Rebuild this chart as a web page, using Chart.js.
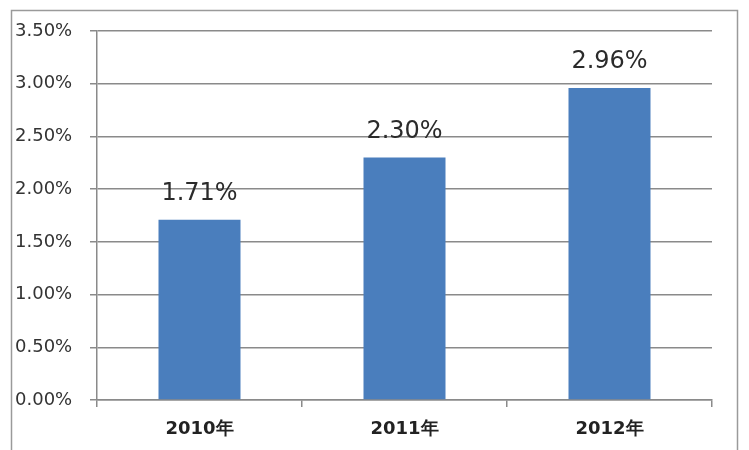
<!DOCTYPE html>
<html>
<head>
<meta charset="utf-8">
<script src="https://cdn.jsdelivr.net/npm/chart.js"></script>
<style>
  html, body { margin: 0; padding: 0; background: #fff; }
  #wrap { width: 749px; height: 450px; }
</style>
</head>
<body>
<div id="wrap"><canvas id="rateChart" width="749" height="450"></canvas></div>
<script>
// chart data
const years = ['2010年', '2011年', '2012年'];
const rates = [1.71, 2.30, 2.96];
const yTicks = [0, 0.5, 1, 1.5, 2, 2.5, 3, 3.5];

const gridColor = '#8a8a8a';

// outer frame, like the Excel chart border
const framePlugin = {
    id: 'frame',
    beforeDraw(chart) {
        const ctx = chart.ctx;
        ctx.save();
        ctx.fillStyle = '#fff';
        ctx.fillRect(0, 0, chart.width, chart.height);
        ctx.strokeStyle = '#9a9a9a';
        ctx.lineWidth = 1.5;
        ctx.strokeRect(11.5, 10.5, 726, 460);
        ctx.restore();
    }
};

// value labels above the bars
const valueLabels = {
    id: 'valueLabels',
    afterDatasetsDraw(chart) {
        const ctx = chart.ctx;
        const meta = chart.getDatasetMeta(0);
        ctx.save();
        ctx.font = '24px "DejaVu Sans"';
        ctx.fillStyle = '#2b2b2b';
        ctx.textAlign = 'center';
        ctx.textBaseline = 'bottom';
        meta.data.forEach((bar, i) => {
            ctx.fillText(rates[i].toFixed(2) + '%', bar.x, bar.y - 14);
        });
        ctx.restore();
    }
};

new Chart(document.getElementById('rateChart'), {
    type: 'bar',
    data: {
        labels: years,
        datasets: [{
            data: rates,
            backgroundColor: '#4a7ebd',
            borderWidth: 0,
            categoryPercentage: 1,
            barPercentage: 0.4
        }]
    },
    options: {
        responsive: false,
        animation: false,
        layout: { padding: { left: 15, right: 37, top: 31, bottom: 0 } },
        plugins: {
            legend: { display: false },
            tooltip: { enabled: false }
        },
        scales: {
            x: {
                grid: {
                    offset: true,
                    drawOnChartArea: false,
                    drawTicks: true,
                    tickLength: 7,
                    color: gridColor,
                    lineWidth: 1.5
                },
                border: { display: true, color: gridColor, width: 1.5 },
                ticks: {
                    color: '#222',
                    font: { family: 'DejaVu Sans', size: 18, weight: 'bold' },
                    padding: 12
                },
                afterFit(scale) { scale.height = 50; }
            },
            y: {
                min: 0,
                max: 3.5,
                afterBuildTicks(scale) {
                    scale.ticks = yTicks.map(v => ({ value: v }));
                },
                grid: {
                    color: gridColor,
                    lineWidth: 1.5,
                    drawTicks: true,
                    tickLength: 7
                },
                border: { display: true, color: gridColor, width: 1.5 },
                ticks: {
                    color: '#333',
                    crossAlign: 'far',
                    font: { family: 'DejaVu Sans', size: 18 },
                    callback: v => v.toFixed(2) + '%'
                },
                afterFit(scale) { scale.width = 82; }
            }
        }
    },
    plugins: [framePlugin, valueLabels]
});
</script>
</body>
</html>
